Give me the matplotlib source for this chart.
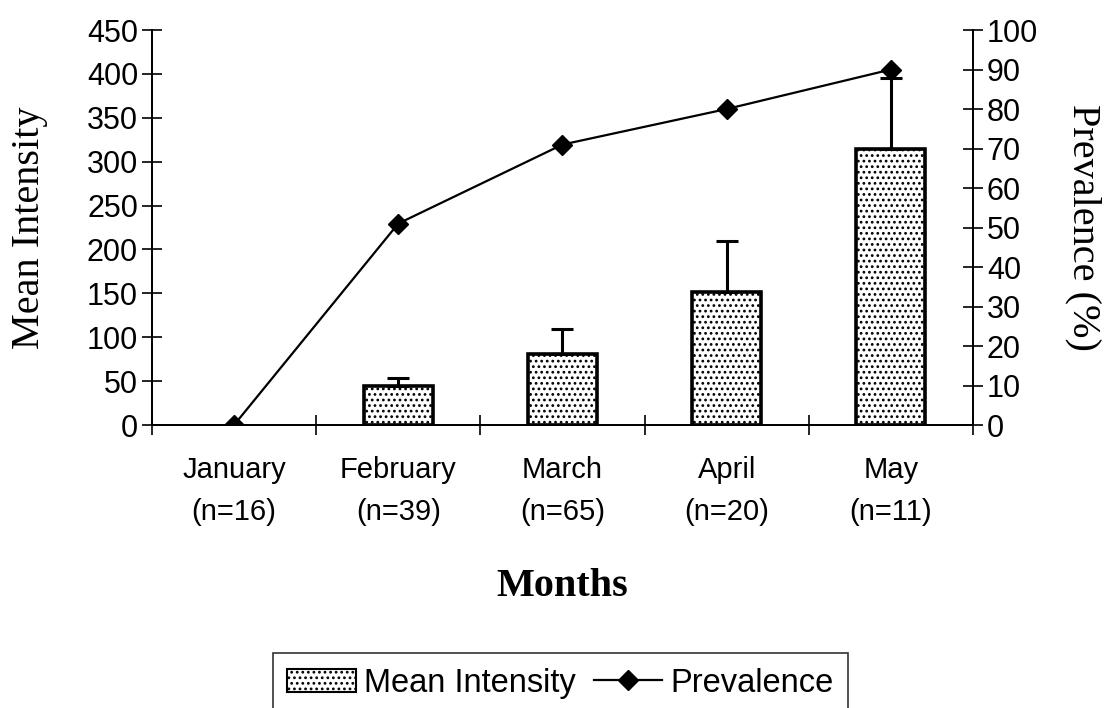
"""Monthly mean intensity (bars with SE) and prevalence (line) on twin axes."""

import matplotlib
matplotlib.use("Agg")
import matplotlib.pyplot as plt
import numpy as np
from matplotlib.patches import Patch
from matplotlib.lines import Line2D

months = ["January", "February", "March", "April", "May"]
n_hosts = [16, 39, 65, 20, 11]
mean_intensity = [0, 45, 81, 152, 314]
intensity_err = [0, 9, 28, 58, 81]
prevalence = [0, 51, 71, 80, 90]

SANS = "Liberation Sans"
SERIF = "Liberation Serif"
plt.rcParams["hatch.linewidth"] = 1.2

fig = plt.figure(figsize=(11.19, 7.08), dpi=100)
ax = fig.add_axes([0.1358, 0.3997, 0.7337, 0.5579])
ax2 = ax.twinx()

x = np.arange(len(months))
shown = np.array(mean_intensity) > 0
ax.bar(x[shown], np.array(mean_intensity)[shown], width=0.42, color="white",
       edgecolor="black", linewidth=2.6, hatch="...", zorder=2)
ax.errorbar(x[shown], np.array(mean_intensity)[shown],
            yerr=[np.zeros(shown.sum()), np.array(intensity_err)[shown]],
            fmt="none", ecolor="black", elinewidth=2.2, capsize=8, capthick=2.2, zorder=3)

ax2.plot(x, prevalence, color="black", lw=1.6, marker="D", ms=10, mfc="black", zorder=4)

ax.set_xlim(-0.5, 4.5)
ax.set_ylim(0, 450)
ax2.set_ylim(0, 100)
ax.set_yticks(np.arange(0, 451, 50))
ax2.set_yticks(np.arange(0, 101, 10))

# boundary ticks between months, labels at the month centres
ax.set_xticks(np.arange(-0.5, 5, 1))
ax.set_xticklabels([])
ax.set_xticks(x, minor=True)
ax.set_xticklabels([f"{m}\n(n={n})" for m, n in zip(months, n_hosts)], minor=True,
                   fontsize=21, fontfamily=SANS, linespacing=1.65)
ax.tick_params(axis="x", which="minor", length=0, pad=22)
ax.tick_params(axis="x", which="major", direction="inout", length=14, width=1.2)
ax.tick_params(axis="y", direction="inout", length=14, width=1.2, pad=3, labelsize=22)
ax2.tick_params(axis="y", direction="inout", length=14, width=1.2, pad=3, labelsize=22)
for lab in ax.get_yticklabels() + ax2.get_yticklabels():
    lab.set_fontfamily(SANS)

for a in (ax, ax2):
    a.spines["top"].set_visible(False)
    for s in ("left", "right", "bottom"):
        a.spines[s].set_linewidth(1.3)

ax.set_ylabel("Mean Intensity", fontsize=29, fontfamily=SERIF, labelpad=28)
ax2.set_ylabel("Prevalence (%)", fontsize=29, fontfamily=SERIF, rotation=270, labelpad=46)
ax.set_xlabel("Months", fontsize=29, fontfamily=SERIF, fontweight="bold", labelpad=30)

handles = [Patch(facecolor="white", edgecolor="black", hatch="...", linewidth=1.5),
           Line2D([], [], color="black", lw=1.6, marker="D", ms=10)]
leg = fig.legend(handles, ["Mean Intensity", "Prevalence"], loc="upper center",
                 bbox_to_anchor=(0.501, 0.0777), ncol=2, frameon=True, fancybox=False,
                 prop={"family": SANS, "size": 23.5}, handlelength=2.1, handletextpad=0.25,
                 columnspacing=0.55, borderpad=0.45, borderaxespad=0)
leg.get_frame().set_edgecolor("black")
leg.get_frame().set_linewidth(1.2)

fig.savefig("out.png", dpi=100)
